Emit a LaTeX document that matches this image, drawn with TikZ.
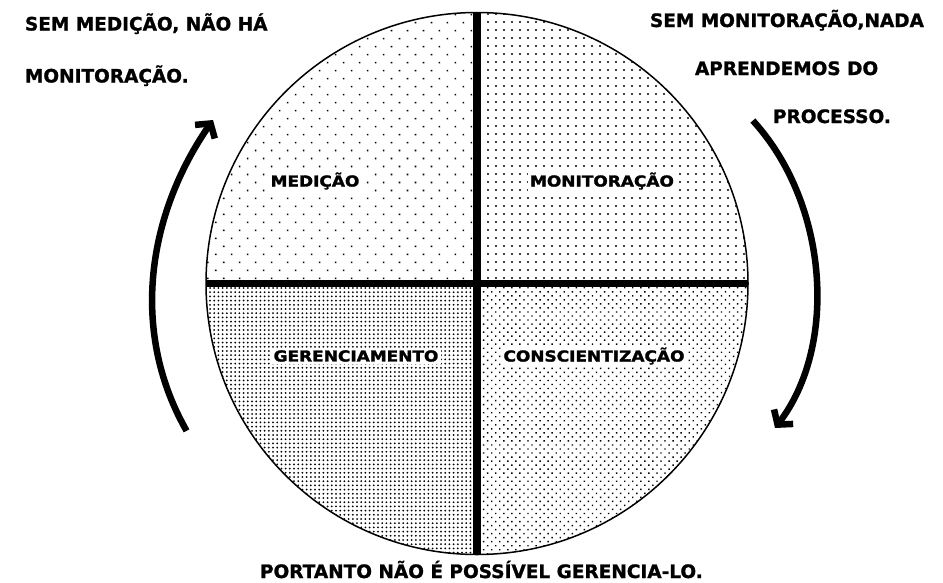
\documentclass[tikz,border=0pt]{standalone}
\usepackage{fontspec}
\newfontfamily\fonteTexto[FakeBold=1.2]{DejaVu Sans}
\newfontfamily\fonteQuadro[FakeStretch=1.13,FakeBold=2]{DejaVu Sans}
\usetikzlibrary{arrows.meta,patterns.meta}

\begin{document}
\begin{tikzpicture}[x=1pt,y=-1pt,line cap=rect,
  rotulo/.style={inner sep=0, outer sep=0, anchor=base west, text=cor_0_0_0},
  quadro/.style={inner sep=2.5pt, outer sep=0, fill=cor_ff_ff_ff, text=cor_0_0_0},
  seta/.style={line width=6.5pt, cor_0_0_0, -{Straight Barb[length=10pt,width=24pt]}}]
\def\fonteNota#1{{\fonteTexto\bfseries\fontsize{18.5pt}{18.5pt}\selectfont#1}} % notas em volta do circulo
\def\fonteQuad#1{{\fonteQuadro\bfseries\fontsize{15pt}{15pt}\selectfont#1}}
\definecolor{cor_0_0_0}{RGB}{0, 0, 0}
\definecolor{cor_ff_ff_ff}{RGB}{255, 255, 255}
\useasboundingbox (0.0,0.0) rectangle (943.0,582.0);
\coordinate (centro) at (477.0,283.5);
\coordinate (topo) at (477.0,12.5);
\coordinate (base) at (477.0,554.5);
\coordinate (esquerda) at (206.0,283.5);
\coordinate (direita) at (748.0,283.5);
\begin{scope}
\clip (centro) circle (271.0);
\fill [pattern={Dots[radius=1.1pt,distance=11.3pt,angle=45]}, pattern color=cor_0_0_0]  (centro) rectangle (200.0,5.0);
\fill [pattern={Dots[radius=1.1pt,distance=8.0pt]}, pattern color=cor_0_0_0]  (centro) rectangle (755.0,5.0);
\fill [pattern={Dots[radius=1.0pt,distance=4.2pt]}, pattern color=cor_0_0_0]  (centro) rectangle (200.0,560.0);
\fill [pattern={Dots[radius=1.0pt,distance=5.7pt,angle=45]}, pattern color=cor_0_0_0]  (centro) rectangle (755.0,560.0);
\end{scope}
\draw [line width=1.5pt, cor_0_0_0]  (centro) circle (271.0);
\draw [line width=7.5pt, line cap=butt, cor_0_0_0]  (topo) -- (base);
\draw [line width=7.5pt, line cap=butt, cor_0_0_0]  (esquerda) -- (direita);
\fonteQuad{\node[quadro] (medicao) at (315.0,181.0) {MEDIÇÃO};}
\fonteQuad{\node[quadro] (monitoracao) at (602.0,181.0) {MONITORAÇÃO};}
\fonteQuad{\node[quadro] (gerenciamento) at (356.0,356.0) {GERENCIAMENTO};}
\fonteQuad{\node[quadro] (conscientizacao) at (594.0,356.0) {CONSCIENTIZAÇÃO};}
\fonteNota{\node[rotulo] (nota_esq_a) at (25.0,30.5) {SEM MEDIÇÃO, NÃO HÁ};}
\fonteNota{\node[rotulo] (nota_esq_b) at (25.0,82.5) {MONITORAÇÃO.};}
\fonteNota{\node[rotulo] (nota_dir_a) at (650.0,27.0) {SEM MONITORAÇÃO,NADA};}
\fonteNota{\node[rotulo] (nota_dir_b) at (695.0,75.0) {APRENDEMOS DO};}
\fonteNota{\node[rotulo] (nota_dir_c) at (773.0,123.0) {PROCESSO.};}
\fonteNota{\node[rotulo] (nota_base) at (260.0,578.0) {PORTANTO NÃO É POSSÍVEL GERENCIA-LO.};}
\coordinate (seta_esq_ini) at (185.0,428.0);
\coordinate (seta_esq_fim) at (213.0,120.0);
\coordinate (seta_dir_ini) at (755.0,123.0);
\coordinate (seta_dir_fim) at (775.0,428.0);
\draw [seta]  (seta_esq_ini) .. controls (130.0,329.0) and (148.0,214.0) .. (seta_esq_fim);
\draw [seta]  (seta_dir_ini) .. controls (828.0,205.0) and (838.0,345.0) .. (seta_dir_fim);
\end{tikzpicture}
\end{document}
